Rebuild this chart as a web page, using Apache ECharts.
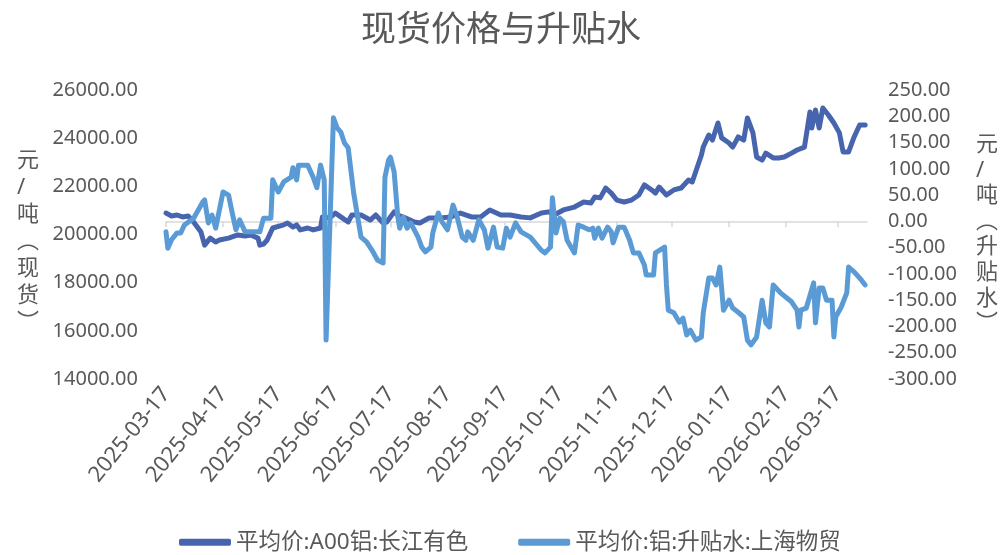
<!DOCTYPE html>
<html>
<head>
<meta charset="utf-8">
<title>现货价格与升贴水</title>
<script src="https://cdn.jsdelivr.net/npm/echarts@6/dist/echarts.min.js"></script>
<style>
  html, body { margin: 0; padding: 0; background: #fff; }
  #main { width: 1002px; height: 555px; }
</style>
</head>
<body>
<div id="main"></div>
<script>
// 平均价:A00铝:长江有色 (元/吨)
var priceDates = [
  '2025-03-17','2025-03-20','2025-03-23','2025-03-26','2025-03-29','2025-04-01','2025-04-05','2025-04-07',
  '2025-04-10','2025-04-13','2025-04-15','2025-04-20','2025-04-25','2025-04-29','2025-05-02','2025-05-06',
  '2025-05-07','2025-05-09','2025-05-11','2025-05-14','2025-05-20','2025-05-22','2025-05-25','2025-05-27',
  '2025-05-29','2025-06-02','2025-06-05','2025-06-09','2025-06-10','2025-06-14','2025-06-17','2025-06-20',
  '2025-06-24','2025-06-26','2025-07-01','2025-07-06','2025-07-09','2025-07-13','2025-07-15','2025-07-19',
  '2025-07-21','2025-07-25','2025-07-30','2025-08-02','2025-08-07','2025-08-13','2025-08-19','2025-08-24',
  '2025-08-30','2025-09-04','2025-09-09','2025-09-15','2025-09-20','2025-09-26','2025-10-01','2025-10-07',
  '2025-10-11','2025-10-14','2025-10-19','2025-10-25','2025-10-30','2025-11-03','2025-11-05','2025-11-08',
  '2025-11-11','2025-11-14','2025-11-17','2025-11-21','2025-11-25','2025-11-29','2025-12-02','2025-12-06',
  '2025-12-08','2025-12-10','2025-12-14','2025-12-18','2025-12-22','2025-12-26','2025-12-28','2026-01-02',
  '2026-01-03','2026-01-06','2026-01-08','2026-01-11','2026-01-13','2026-01-17','2026-01-19','2026-01-22',
  '2026-01-25','2026-01-27','2026-01-30','2026-02-01','2026-02-04','2026-02-06','2026-02-10','2026-02-13',
  '2026-02-16','2026-02-20','2026-02-23','2026-02-27','2026-03-02','2026-03-03','2026-03-05','2026-03-07',
  '2026-03-09','2026-03-12','2026-03-15','2026-03-18','2026-03-20','2026-03-23','2026-03-26','2026-03-29',
  '2026-04-01'
];
var priceValues = [
  20890, 20770, 20810, 20730, 20770, 20520, 20100, 19560,
  19850, 19690, 19770, 19850, 19980, 19940, 19980, 19850,
  19560, 19600, 19770, 20270, 20400, 20480, 20310, 20400,
  20190, 20270, 20190, 20270, 20730, 20690, 20890, 20730,
  20520, 20810, 20810, 20600, 20810, 20480, 20520, 20940,
  20810, 20690, 20520, 20480, 20690, 20690, 20730, 20890,
  20730, 20730, 21020, 20810, 20810, 20730, 20690, 20890,
  20940, 20810, 21020, 21140, 21350, 21310, 21560, 21520,
  21930, 21720, 21430, 21350, 21430, 21640, 22060, 21850,
  21720, 21970, 21640, 21850, 21930, 22260, 22180, 23300,
  23630, 24130, 23920, 24630, 24010, 23800, 23630, 24050,
  23920, 24840, 24220, 23220, 23090, 23380, 23180, 23180,
  23220, 23380, 23510, 23630, 25090, 24420, 25170, 24420,
  25250, 24960, 24630, 24220, 23430, 23430, 24050, 24550,
  24550
];

// 平均价:铝:升贴水:上海物贸 (元/吨)
var basisDates = [
  '2025-03-17','2025-03-18','2025-03-20','2025-03-23','2025-03-25','2025-03-27','2025-04-01','2025-04-06',
  '2025-04-07','2025-04-09','2025-04-11','2025-04-13','2025-04-17','2025-04-20','2025-04-22','2025-04-24',
  '2025-04-26','2025-04-29','2025-05-02','2025-05-07','2025-05-09','2025-05-13','2025-05-14','2025-05-17',
  '2025-05-20','2025-05-24','2025-05-25','2025-05-27','2025-05-28','2025-06-02','2025-06-05','2025-06-07',
  '2025-06-09','2025-06-11','2025-06-12','2025-06-16','2025-06-18','2025-06-20','2025-06-22','2025-06-24',
  '2025-06-27','2025-07-01','2025-07-04','2025-07-07','2025-07-10','2025-07-13','2025-07-14','2025-07-16',
  '2025-07-17','2025-07-19','2025-07-21','2025-07-22','2025-07-24','2025-07-26','2025-07-28','2025-08-01',
  '2025-08-03','2025-08-05','2025-08-08','2025-08-09','2025-08-12','2025-08-14','2025-08-17','2025-08-20',
  '2025-08-22','2025-08-25','2025-08-27','2025-08-28','2025-08-31','2025-09-03','2025-09-06','2025-09-08',
  '2025-09-11','2025-09-13','2025-09-16','2025-09-18','2025-09-20','2025-09-23','2025-09-26','2025-10-01',
  '2025-10-07','2025-10-09','2025-10-12','2025-10-13','2025-10-15','2025-10-17','2025-10-19','2025-10-21',
  '2025-10-25','2025-10-27','2025-10-30','2025-11-02','2025-11-04','2025-11-05','2025-11-07','2025-11-09',
  '2025-11-12','2025-11-14','2025-11-15','2025-11-18','2025-11-21','2025-11-24','2025-11-26','2025-11-29',
  '2025-12-02','2025-12-03','2025-12-07','2025-12-08','2025-12-13','2025-12-14','2025-12-15','2025-12-18',
  '2025-12-21','2025-12-23','2025-12-25','2025-12-27','2025-12-30','2026-01-02','2026-01-03','2026-01-06',
  '2026-01-08','2026-01-10','2026-01-12','2026-01-14','2026-01-17','2026-01-19','2026-01-22','2026-01-25',
  '2026-01-27','2026-01-29','2026-02-01','2026-02-04','2026-02-06','2026-02-08','2026-02-10','2026-02-14',
  '2026-02-20','2026-02-23','2026-02-24','2026-02-25','2026-02-28','2026-03-04','2026-03-05','2026-03-07',
  '2026-03-09','2026-03-11','2026-03-14','2026-03-15','2026-03-16','2026-03-19','2026-03-22','2026-03-23',
  '2026-03-26','2026-03-30','2026-04-01'
];
var basisValues = [
  -20, -51, -35, -22, -22, -7, 6, 37,
  41, -3, 12, -13, 56, 50, 16, -16,
  3, -20, -20, -20, 6, 6, 79, 56,
  75, 84, 102, 79, 107, 107, 84, 64,
  107, 79, -226, 197, 178, 170, 149, 140,
  54, -30, -39, -55, -74, -79, 84, 117,
  122, 94, 8, -13, 8, -13, -3, -30,
  -49, -58, -49, -22, 16, -1, -16, 31,
  12, -30, -36, -20, -36, 3, -16, -51,
  -11, -49, -51, -13, -30, -3, -20, -30,
  -55, -60, -49, 45, -22, 6, -1, -36,
  -60, -7, -11, -16, -13, -32, -13, -32,
  -11, -20, -41, -11, -11, -36, -60, -60,
  -83, -102, -102, -60, -49, -121, -169, -174,
  -192, -184, -216, -207, -226, -220, -174, -108,
  -108, -121, -87, -169, -150, -165, -173, -182,
  -226, -235, -220, -150, -193, -201, -121, -136,
  -153, -169, -201, -169, -165, -117, -193, -127,
  -127, -150, -150, -220, -182, -163, -136, -87,
  -96, -112, -121
];

var tickDates = [
  '2025-03-17','2025-04-17','2025-05-17','2025-06-17','2025-07-17','2025-08-17','2025-09-17',
  '2025-10-17','2025-11-17','2025-12-17','2026-01-17','2026-02-17','2026-03-17'
];

function toTime(s) {
  var p = s.split('-');
  return new Date(+p[0], +p[1] - 1, +p[2]).getTime();
}
function pad(n) { return n < 10 ? '0' + n : '' + n; }
function fmtDate(v) {
  var d = new Date(v);
  return d.getFullYear() + '-' + pad(d.getMonth() + 1) + '-' + pad(d.getDate());
}

var tickTimes = tickDates.map(toTime);
var priceData = priceDates.map(function (d, i) { return [toTime(d), priceValues[i]]; });
var basisData = basisDates.map(function (d, i) { return [toTime(d), basisValues[i]]; });

var textColor = '#595959';
var font = '"Noto Sans", "Noto Sans CJK SC", sans-serif';

var myChart = echarts.init(document.getElementById('main'));
var option = {
  backgroundColor: '#ffffff',
  animation: false,
  textStyle: { fontFamily: font, color: textColor },
  title: {
    text: '现货价格与升贴水',
    left: 'center',
    top: 9,
    textStyle: { fontSize: 35, fontWeight: 'normal', color: textColor, fontFamily: font }
  },
  legend: {
    top: 526,
    left: 174,
    icon: 'roundRect',
    itemWidth: 52,
    itemHeight: 7,
    itemGap: 50,
    textStyle: { fontSize: 22.5, color: textColor, fontFamily: font },
    data: ['平均价:A00铝:长江有色', '平均价:铝:升贴水:上海物贸']
  },
  graphic: [
    {
      type: 'text', left: 17, top: 147,
      style: {
        text: '元\n/\n吨\n︵\n现\n货\n︶',
        fontSize: 22, lineHeight: 27, fill: textColor, align: 'center', fontFamily: font
      }
    },
    {
      type: 'text', left: 976, top: 132,
      style: {
        text: '元\n/\n吨\n︵\n升\n贴\n水\n︶',
        fontSize: 22, lineHeight: 25.6, fill: textColor, align: 'center', fontFamily: font
      }
    }
  ],
  grid: { left: 166, right: 135, top: 90, bottom: 176, outerBoundsMode: 'none' },
  xAxis: {
    type: 'value',
    min: toTime('2025-03-17'),
    max: toTime('2026-04-02'),
    splitLine: { show: false },
    axisLine: { show: true, lineStyle: { color: '#d9d9d9', width: 1.5 } },
    axisTick: { show: true, customValues: tickTimes, length: 6, lineStyle: { color: '#d9d9d9', width: 1.5 } },
    axisLabel: {
      customValues: tickTimes,
      rotate: 51,
      margin: 11,
      fontSize: 22,
      color: textColor,
      fontFamily: font,
      formatter: function (v) { return fmtDate(v); }
    }
  },
  yAxis: [
    {
      type: 'value',
      min: 14000, max: 26000, interval: 2000,
      splitLine: { show: false },
      axisLine: { show: false },
      axisTick: { show: false },
      axisLabel: {
        margin: 28, fontSize: 20, color: textColor, fontFamily: font,
        formatter: function (v) { return v.toFixed(2); }
      }
    },
    {
      type: 'value',
      min: -300, max: 250, interval: 50,
      splitLine: { show: false },
      axisLine: { show: false },
      axisTick: { show: false },
      axisLabel: {
        margin: 21, fontSize: 20, color: textColor, fontFamily: font,
        formatter: function (v) { return v.toFixed(2); }
      }
    }
  ],
  series: [
    {
      name: '平均价:A00铝:长江有色',
      type: 'line',
      yAxisIndex: 0,
      data: priceData,
      showSymbol: false,
      itemStyle: { color: '#4765AE' },
      lineStyle: { color: '#4765AE', width: 5, cap: 'round', join: 'round' }
    },
    {
      name: '平均价:铝:升贴水:上海物贸',
      type: 'line',
      yAxisIndex: 1,
      data: basisData,
      showSymbol: false,
      itemStyle: { color: '#5B9BD5' },
      lineStyle: { color: '#5B9BD5', width: 5, cap: 'round', join: 'round' }
    }
  ]
};
myChart.setOption(option);
</script>
</body>
</html>
